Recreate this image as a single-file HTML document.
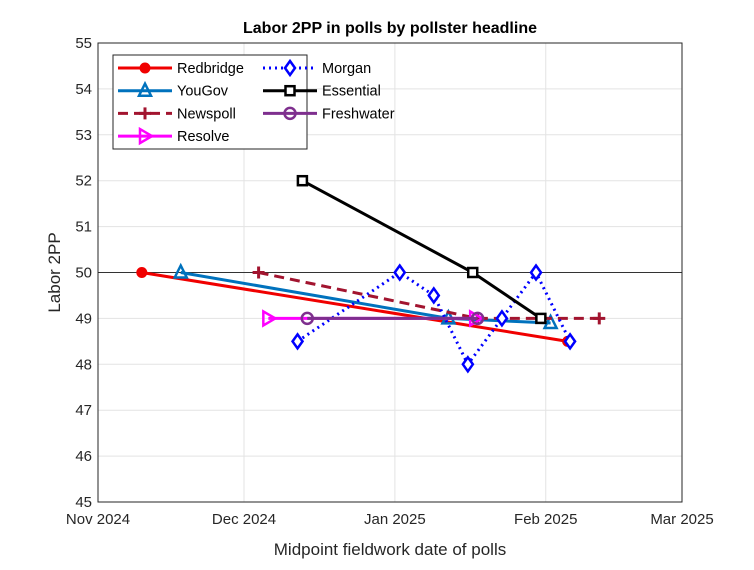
<!DOCTYPE html>
<html><head><meta charset="utf-8"><style>
body{margin:0;background:#fff;width:754px;height:565px;overflow:hidden;font-family:"Liberation Sans",Arial,sans-serif}
svg text{font-family:"Liberation Sans",Arial,sans-serif}
</style></head><body>
<svg id="chart" width="754" height="565" xmlns="http://www.w3.org/2000/svg"></svg>
<script>
// Data: x = days since 1 Nov 2024
const xTickLabels = ["Nov 2024","Dec 2024","Jan 2025","Feb 2025","Mar 2025"];
const xTickDays = [0,30,61,92,120];
const yTicks = [45,46,47,48,49,50,51,52,53,54,55];
const redbridgeX = [9,96.5];   const redbridgeY = [50,48.5];
const yougovX = [17,72,93];    const yougovY = [50,49,48.9];
const newspollX = [33,78,103]; const newspollY = [50,49,49];
const resolveX = [35,77.5];    const resolveY = [49,49];
const morganX = [41,62,69,76,83,90,97]; const morganY = [48.5,50,49.5,48,49,50,48.5];
const essentialX = [42,77,91]; const essentialY = [52,50,49];
const freshwaterX = [43,78];   const freshwaterY = [49,49];

const svg = document.getElementById('chart');
const NS = 'http://www.w3.org/2000/svg';
const L=98,R=682,T=43,B=502;
const xs = d => L + d/120*(R-L);
const ys = v => B - (v-45)/10*(B-T);
function mk(tag, a, parent){const e=document.createElementNS(NS,tag);for(const k in a)e.setAttribute(k,a[k]);(parent||svg).appendChild(e);return e;}

let bg=mk('rect',{x:L,y:T,width:R-L,height:B-T,fill:'#fff'});


// grid
xTickDays.forEach((d,i)=>{
  let g=mk('line',{x1:xs(d),x2:xs(d),y1:T,y2:B,stroke:'#e3e3e3','stroke-width':1});
  
  
  let t=mk('text',{x:xs(d),y:B+22,'text-anchor':'middle','font-size':15,fill:'#262626'});
  t.textContent=xTickLabels[i];
  
  
});
yTicks.forEach(v=>{
  let g=mk('line',{x1:L,x2:R,y1:ys(v),y2:ys(v),stroke:'#e3e3e3','stroke-width':1});
  
  
  let t=mk('text',{x:L-6,y:ys(v)+5,'text-anchor':'end','font-size':15,fill:'#262626'});
  t.textContent=v;
  
  
});
let ref=mk('line',{x1:L,x2:R,y1:ys(50),y2:ys(50),stroke:'#333','stroke-width':1});


let box=mk('rect',{x:L,y:T,width:R-L,height:B-T,fill:'none',stroke:'#262626','stroke-width':1});



function marker(type,x,y,color,g){
  if(type==='circle') mk('circle',{cx:x,cy:y,r:5,fill:color,stroke:color,'stroke-width':1},g);
  else if(type==='triangle') mk('polygon',{points:`${x},${y-7} ${x-6},${y+5} ${x+6},${y+5}`,fill:'none',stroke:color,'stroke-width':2.5},g);
  else if(type==='plus'){mk('line',{x1:x-6,x2:x+6,y1:y,y2:y,stroke:color,'stroke-width':3},g);mk('line',{x1:x,x2:x,y1:y-6,y2:y+6,stroke:color,'stroke-width':3},g);}
  else if(type==='right') mk('polygon',{points:`${x-5},${y-7} ${x+7},${y} ${x-5},${y+7}`,fill:'none',stroke:color,'stroke-width':2.5},g);
  else if(type==='diamond') mk('polygon',{points:`${x},${y-7} ${x+5},${y} ${x},${y+7} ${x-5},${y}`,fill:'#fff',stroke:color,'stroke-width':2.5},g);
  else if(type==='square') mk('rect',{x:x-4.5,y:y-4.5,width:9,height:9,fill:'#fff',stroke:color,'stroke-width':2.5},g);
  else if(type==='ocircle') mk('circle',{cx:x,cy:y,r:5.5,fill:'none',stroke:color,'stroke-width':2.5},g);
}
const series=[
 ['Redbridge',redbridgeX,redbridgeY,'#f00000','circle',''],
 ['YouGov',yougovX,yougovY,'#0072bd','triangle',''],
 ['Newspoll',newspollX,newspollY,'#a2142f','plus','10,6'],
 ['Resolve',resolveX,resolveY,'#ff00ff','right',''],
 ['Morgan',morganX,morganY,'#0000ff','diamond','2,4'],
 ['Essential',essentialX,essentialY,'#000000','square',''],
 ['Freshwater',freshwaterX,freshwaterY,'#7e2f8e','ocircle','']
];
series.forEach(s=>{
  const g=mk('g',{});
  
  
  const pts=s[1].map((d,i)=>xs(d)+','+ys(s[2][i])).join(' ');
  const a={points:pts,fill:'none',stroke:s[3],'stroke-width':3};
  if(s[5])a['stroke-dasharray']=s[5];
  mk('polyline',a,g);
  s[1].forEach((d,i)=>marker(s[4],xs(d),ys(s[2][i]),s[3],g));
});

// legend
const lg=mk('g',{});


mk('rect',{x:113,y:55,width:194,height:94,fill:'#fff',stroke:'#262626','stroke-width':1},lg);
series.forEach((s,i)=>{
  const col=i<4?0:1, row=i<4?i:i-4;
  const x0=col?263:118, y=68+row*22.7;
  const e=mk('g',{},lg);
  
  
  const a={x1:x0,x2:x0+54,y1:y,y2:y,stroke:s[3],'stroke-width':3};
  if(s[5])a['stroke-dasharray']=s[5];
  mk('line',a,e);
  marker(s[4],x0+27,y,s[3],e);
  const t=mk('text',{x:x0+59,y:y+5,'font-size':14.5,fill:'#000'},e);
  t.textContent=s[0];
});

let title=mk('text',{x:390,y:33,'text-anchor':'middle','font-size':16,'font-weight':'bold',fill:'#000'});
title.textContent='Labor 2PP in polls by pollster headline';


let xt=mk('text',{x:390,y:555,'text-anchor':'middle','font-size':17,fill:'#262626'});
xt.textContent='Midpoint fieldwork date of polls';


let yt=mk('text',{x:0,y:0,'text-anchor':'middle','font-size':17,fill:'#262626',transform:`translate(60,${(T+B)/2}) rotate(-90)`});
yt.textContent='Labor 2PP';


</script>
</body></html>
